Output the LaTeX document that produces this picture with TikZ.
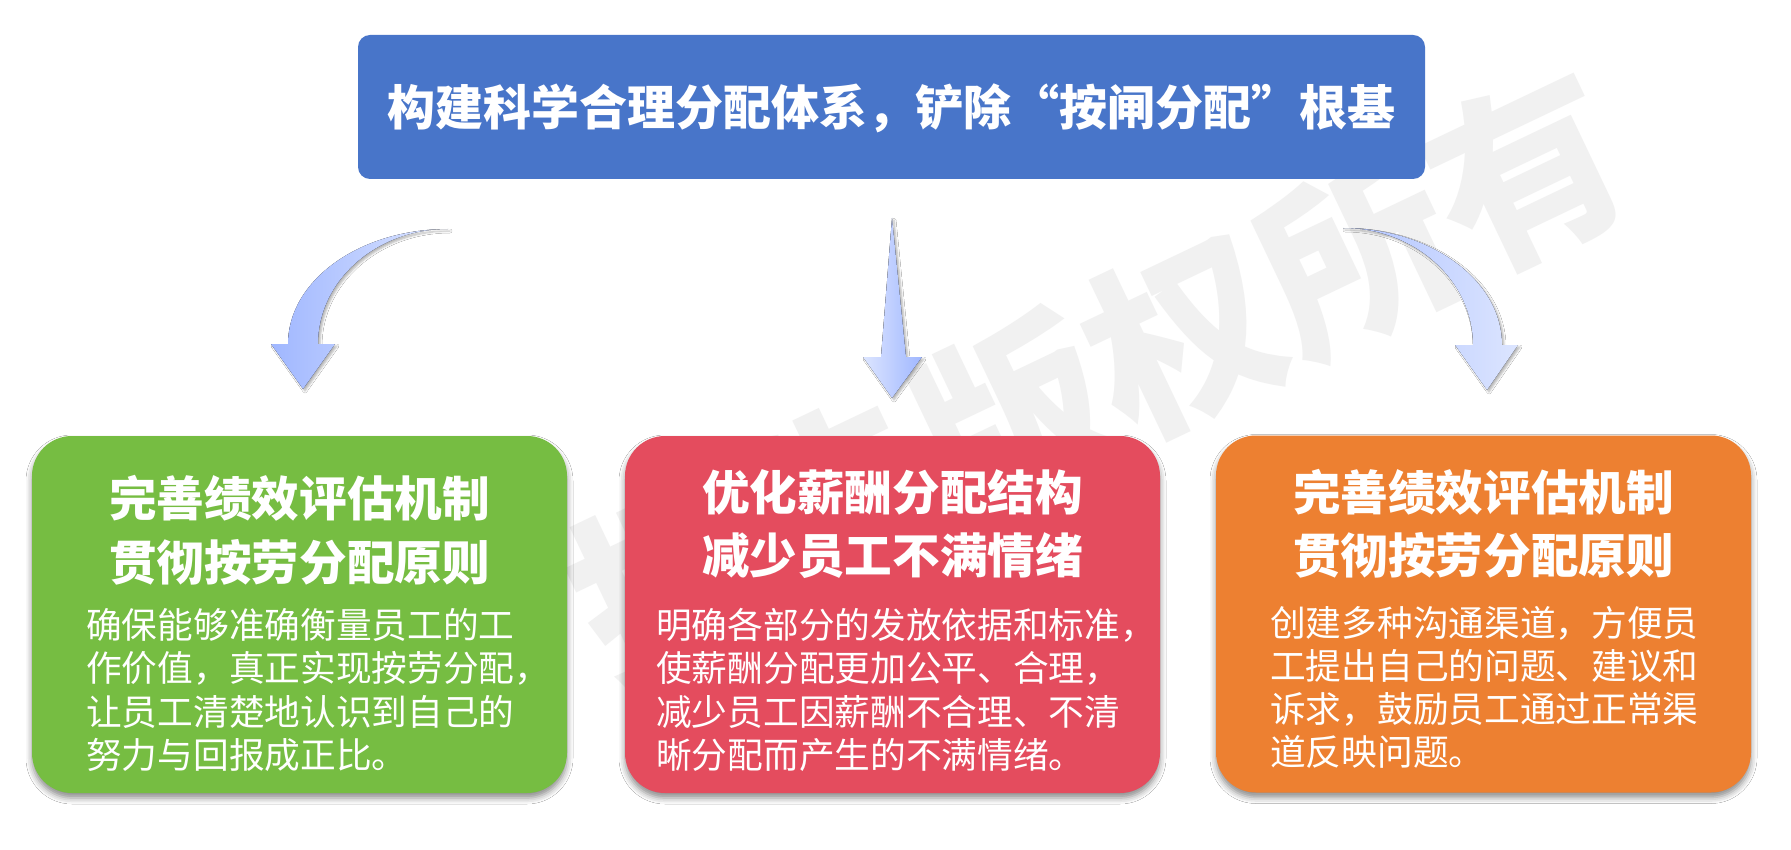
\documentclass[tikz,border=0pt]{standalone}
\usepackage{fontspec}
\setmainfont{Noto Sans CJK SC}
\usetikzlibrary{shadows.blur}
\definecolor{topblue}{HTML}{4875C9}
\definecolor{boxgreen}{HTML}{76BD42}
\definecolor{boxred}{HTML}{E44C5E}
\definecolor{boxorange}{HTML}{ED8031}
\definecolor{arrdark}{HTML}{A0B7FF}
\definecolor{arrlight}{HTML}{DCE5FF}
\definecolor{wmgray}{HTML}{F1F1F1}
\begin{document}
\begin{tikzpicture}[x=1pt,y=-1pt,
  card/.style={rounded corners=40pt, minimum width=535pt, minimum height=357pt, inner sep=0pt,
    blur shadow={shadow xshift=0pt, shadow yshift=-5pt, shadow blur radius=6pt, shadow opacity=45}},
  ttl/.style={text=white, font=\fontsize{47.6pt}{64pt}\selectfont\bfseries, inner sep=0pt, anchor=base},
  bodytxt/.style={text=white, font=\fontsize{35.7pt}{43pt}\selectfont, inner sep=0pt, anchor=base west},
  arrshape/.style={blur shadow={shadow xshift=2pt, shadow yshift=-2pt, shadow blur radius=2pt, shadow opacity=30}}]
\useasboundingbox (0,0) rectangle (1791,850);
\fill[white] (0,0) rectangle (1791,850);
% watermark
\node[rotate=25.5, inner sep=0pt, text=wmgray, font=\fontsize{190pt}{190pt}\selectfont\bfseries] (wm) at (1098,377) {报告版权所有};
% top box
\node[fill=topblue, rounded corners=12pt, minimum width=1067pt, minimum height=144pt, inner sep=0pt] (top) at (891.5,107) {};
\node[ttl, font=\fontsize{48pt}{48pt}\selectfont\bfseries] (toptxt) at (891.5,126) {构建科学合理分配体系，铲除“按闸分配”根基};
% arrows
\fill[arrshape, left color=arrdark, right color=arrlight]
  (448,229) .. controls (359.6,229) and (288,280.5) .. (288,344) -- (271,344) -- (303,389) -- (335,344) -- (318,344)
  .. controls (318,280.5) and (376.2,229) .. (448,229) -- cycle;
\fill[arrshape, left color=arrlight, right color=arrdark]
  (892,218) -- (906,357) -- (922,357) -- (892,398) -- (863,357) -- (881,357) -- cycle;
\fill[arrshape, left color=arrdark!75!arrlight, right color=arrlight]
  (1343,228) .. controls (1430.8,228) and (1502,280.4) .. (1502,345) -- (1518,345) -- (1487,390) -- (1455,345) -- (1473,345)
  .. controls (1473,280.4) and (1414.8,228) .. (1343,228) -- cycle;
% cards
\node[card, fill=boxgreen] (g) at (299.5,614.5) {};
\node[card, fill=boxred] (r) at (892.5,614.5) {};
\node[card, fill=boxorange] (o) at (1483.5,614) {};
% green text
\node[ttl] (g1) at (299.5,516) {完善绩效评估机制};
\node[ttl] (g2) at (299.5,580) {贯彻按劳分配原则};
\node[bodytxt] (gb1) at (86,638) {确保能够准确衡量员工的工};
\node[bodytxt] (gb2) at (86,681) {作价值，真正实现按劳分配，};
\node[bodytxt] (gb3) at (86,725) {让员工清楚地认识到自己的};
\node[bodytxt] (gb4) at (86,768) {努力与回报成正比。};
% red text
\node[ttl] (r1) at (892.5,510) {优化薪酬分配结构};
\node[ttl] (r2) at (892.5,573) {减少员工不满情绪};
\node[bodytxt] (rb1) at (656,638) {明确各部分的发放依据和标准，};
\node[bodytxt] (rb2) at (656,681) {使薪酬分配更加公平、合理，};
\node[bodytxt] (rb3) at (656,725) {减少员工因薪酬不合理、不清};
\node[bodytxt] (rb4) at (656,768) {晰分配而产生的不满情绪。};
% orange text
\node[ttl] (o1) at (1483.5,510) {完善绩效评估机制};
\node[ttl] (o2) at (1483.5,573) {贯彻按劳分配原则};
\node[bodytxt] (ob1) at (1270,636) {创建多种沟通渠道，方便员};
\node[bodytxt] (ob2) at (1270,679) {工提出自己的问题、建议和};
\node[bodytxt] (ob3) at (1270,722) {诉求，鼓励员工通过正常渠};
\node[bodytxt] (ob4) at (1270,765) {道反映问题。};
\end{tikzpicture}
\end{document}
